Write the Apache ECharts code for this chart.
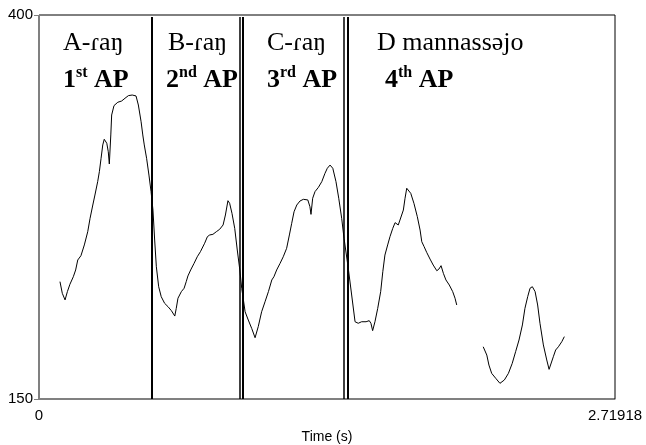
<!DOCTYPE html>
<html>
<head>
<meta charset="utf-8">
<script src="https://cdn.jsdelivr.net/npm/echarts@6.0.0/dist/echarts.min.js"></script>
<style>
  html, body { margin: 0; padding: 0; background: #fff; }
  #chart { width: 646px; height: 445px; }
</style>
</head>
<body>
<div id="chart"></div>
<script>
// pitch track (time in s, F0 in Hz); null = unvoiced gap
var timeS = [
  0.099, 0.110, 0.123, 0.134, 0.146, 0.162, 0.173, 0.183, 0.189, 0.198,
  0.214, 0.230, 0.241, 0.254, 0.264, 0.277, 0.285, 0.293, 0.301, 0.308,
  0.320, 0.327, 0.332, 0.339, 0.343, 0.354, 0.372, 0.390, 0.406, 0.422,
  0.440, 0.458, 0.469, 0.482, 0.490, 0.497, 0.508, 0.519, 0.529, 0.538,
  0.546, 0.554, 0.565, 0.577, 0.593, 0.609, 0.625, 0.641, 0.648, 0.656,
  0.672, 0.685, 0.695, 0.703, 0.716, 0.732, 0.747, 0.762, 0.771, 0.782,
  0.795, 0.806, 0.821, 0.837, 0.853, 0.869, 0.880, 0.892, 0.900, 0.911,
  0.924, 0.936, 0.948, 0.957, 0.973, 0.988, 1.004, 1.020, 1.035, 1.051,
  1.067, 1.083, 1.099, 1.109, 1.122, 1.138, 1.153, 1.169, 1.182, 1.193,
  1.204, 1.217, 1.232, 1.248, 1.269, 1.279, 1.284, 1.292, 1.303, 1.319,
  1.335, 1.350, 1.361, 1.374, 1.387, 1.402, 1.415, 1.429, 1.440, 1.460,
  1.476, 1.492, 1.507, 1.523, 1.544, 1.559, 1.567, 1.575, 1.586, 1.599,
  1.613, 1.623, 1.633, 1.646, 1.657, 1.670, 1.681, 1.689, 1.696, 1.704,
  1.720, 1.728, 1.736, 1.743, 1.755, 1.770, 1.786, 1.799, 1.807, 1.818,
  1.830, 1.846, 1.861, 1.878, 1.888, 1.898, 1.909, 1.921, 1.937, 1.953,
  1.964, 1.972,
  2.030,
  2.097, 2.114, 2.124, 2.137, 2.156, 2.176, 2.197, 2.216, 2.234, 2.250,
  2.266, 2.282, 2.294, 2.307, 2.318, 2.329, 2.342, 2.354, 2.365, 2.381,
  2.397, 2.408, 2.417, 2.428, 2.439, 2.452, 2.468, 2.480
];
var pitchHz = [
  226.4, 218.8, 214.5, 219.9, 224.7, 229.6, 234.0, 240.5, 239.4, 243.3,
  250.3, 258.9, 267.6, 276.3, 282.8, 291.5, 298.0, 306.7, 315.4, 319.1,
  316.5, 311.0, 303.0, 321.9, 334.9, 341.0, 343.2, 344.0, 345.8, 347.5,
  347.9, 347.3, 341.4, 330.5, 321.9, 315.4, 306.7, 295.8, 285.0, 273.0,
  253.5, 236.1, 223.1, 216.6, 212.3, 210.1, 207.5, 204.0, 209.0, 215.6,
  219.9, 222.1, 226.4, 230.1, 234.0, 238.3, 242.6, 245.9, 247.0, 251.4,
  255.7, 256.8, 257.2, 258.9, 260.5, 263.3, 269.8, 279.1, 277.4, 270.9,
  261.1, 247.0, 234.0, 222.1, 206.8, 201.4, 196.0, 189.9, 197.1, 206.8,
  213.3, 219.9, 227.5, 229.6, 234.0, 238.3, 242.6, 248.1, 256.8, 264.4,
  271.9, 276.3, 278.9, 280.0, 279.6, 275.2, 270.2, 280.7, 285.0, 287.8,
  291.5, 296.9, 300.2, 302.3, 300.2, 291.5, 280.7, 267.6, 254.6, 235.1,
  217.7, 200.3, 199.3, 200.3, 200.3, 201.0, 199.3, 194.5, 200.3, 209.0,
  219.9, 232.9, 243.7, 250.3, 255.7, 261.1, 264.8, 263.7, 263.3, 266.5,
  273.0, 280.7, 287.2, 288.2, 283.9, 277.4, 268.7, 260.0, 252.4, 249.2,
  245.5, 241.1, 237.2, 233.5, 234.6, 236.8, 231.8, 227.5, 224.2, 219.9,
  215.6, 211.2,
  null,
  184.0, 178.6, 172.1, 166.7, 163.5, 160.2, 162.4, 166.7, 173.2, 180.8,
  188.4, 198.2, 209.0, 216.6, 222.1, 223.1, 219.9, 211.2, 199.3, 185.2,
  175.4, 169.3, 169.3, 177.5, 181.9, 184.0, 187.3, 190.6
];

// segment boundaries (s): single line, then two double lines
var boundaryTimes = [0.5335, 0.9466, 0.963, 1.4377, 1.4556];
var boundaryWidths = [2, 1.5, 2, 1.5, 2];

var xMin = 0, xMax = 2.71918;
var yMin = 150, yMax = 400;
var xTicks = [0, 2.71918];
var yTicks = [150, 400];

var syllables = ['A-ɾaŋ', 'B-ɾaŋ', 'C-ɾaŋ', 'D mannassəjo'];
var phraseNums = ['1', '2', '3', '4'];
var phraseSups = ['st', 'nd', 'rd', 'th'];

var chart = echarts.init(document.getElementById('chart'));

var seriesData = timeS.map(function (t, i) {
  return [t, pitchHz[i] == null ? '-' : pitchHz[i]];
});

var markLines = boundaryTimes.map(function (t, i) {
  return [
    { coord: [t, yMin], lineStyle: { width: boundaryWidths[i] } },
    { coord: [t, 398.7] }
  ];
});

var serif = '"Liberation Serif", serif';
var sans = 'Liberation Sans';
var labelLeft = [[63, 63], [168, 166], [267, 267], [377, 385]];
var graphics = [];
syllables.forEach(function (s, i) {
  graphics.push({
    type: 'text', left: labelLeft[i][0], top: 30,
    style: { text: s, font: '26px ' + serif, fill: '#000' }
  });
  graphics.push({
    type: 'text', left: labelLeft[i][1], top: 65,
    style: {
      text: '{n|' + phraseNums[i] + '}{s|' + phraseSups[i] + '}{n| AP}',
      rich: {
        n: { font: 'bold 26px ' + serif, lineHeight: 30, fill: '#000' },
        s: { font: 'bold 16px ' + serif, lineHeight: 16, verticalAlign: 'top', fill: '#000' }
      }
    }
  });
});

var option = {
  animation: false,
  backgroundColor: '#fff',
  grid: {
    left: 39, right: 31, top: 15, bottom: 46,
    outerBoundsMode: 'none',
    show: true, borderColor: '#000', borderWidth: 1
  },
  xAxis: {
    type: 'value', min: xMin, max: xMax,
    name: 'Time (s)', nameLocation: 'middle', nameGap: 31,
    nameTextStyle: { color: '#000', fontSize: 14, fontFamily: sans },
    axisLine: { lineStyle: { color: '#808080', width: 1 } },
    axisTick: { show: false },
    axisLabel: {
      customValues: xTicks, margin: 9, color: '#000', fontSize: 15,
      fontFamily: sans
    },
    splitLine: { show: false }
  },
  yAxis: {
    type: 'value', min: yMin, max: yMax,
    axisLine: { show: true, lineStyle: { color: '#808080', width: 1 } },
    axisTick: { show: true, length: 5, customValues: yTicks, lineStyle: { color: '#808080' } },
    axisLabel: {
      customValues: yTicks, margin: 6, color: '#000', fontSize: 15,
      fontFamily: sans
    },
    splitLine: { show: false }
  },
  series: [{
    type: 'line',
    data: seriesData,
    showSymbol: false,
    connectNulls: false,
    lineStyle: { color: '#000', width: 1 },
    markLine: {
      silent: true, symbol: 'none',
      label: { show: false },
      lineStyle: { color: '#000', type: 'solid', width: 2 },
      data: markLines
    }
  }],
  graphic: graphics
};

chart.setOption(option);
</script>
</body>
</html>
